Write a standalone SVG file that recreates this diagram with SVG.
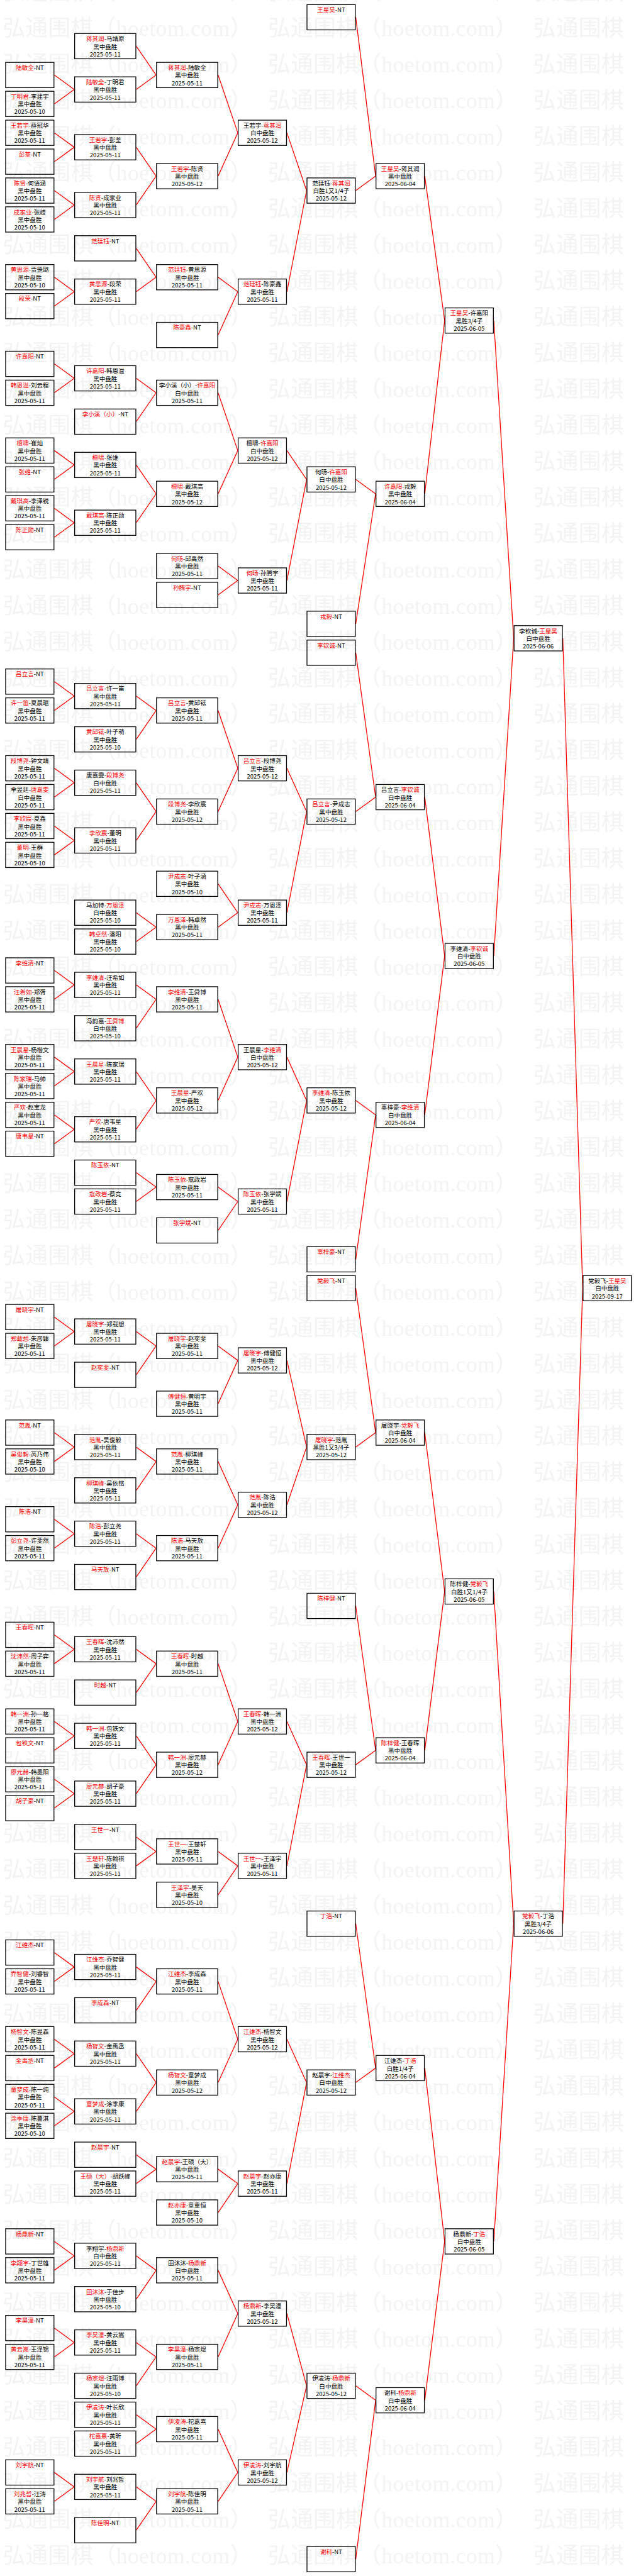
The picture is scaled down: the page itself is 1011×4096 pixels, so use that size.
<svg xmlns="http://www.w3.org/2000/svg" width="1011" height="4096" viewBox="0 0 1011 4096">
<style>
.nd text{font-family:"Noto Sans CJK SC","Noto Sans",sans-serif;font-size:15px;text-anchor:middle;fill:#000}
.nd .r{fill:#f00}
.box{fill:none;stroke:#000;stroke-width:2}
.cn path{fill:none;stroke:#f00;stroke-width:2;stroke-linejoin:round}
.wm{font-family:"Liberation Serif","Noto Sans CJK SC",serif;font-size:56px;fill:#f3f3f3}
</style>
<defs>
<rect id="bn" class="box" x="-60.25" y="1" width="120.5" height="63"/>
<rect id="bw" class="box" x="-76.25" y="1" width="152.5" height="63"/>
<pattern id="wm" patternUnits="userSpaceOnUse" x="0" y="23" width="661" height="90"><text class="wm" x="7" y="67" textLength="622" lengthAdjust="spacing">弘通围棋（hoetom.com）</text></pattern>
</defs>
<g transform="scale(0.6379)">
<rect x="0" y="0" width="1585" height="6421" fill="#fff"/>
<rect x="0" y="0" width="1585" height="6421" fill="url(#wm)"/>
<g class="cn">
<path d="M135.5,187 L185,223 L135.5,259"/>
<path d="M135.5,331 L185,367 L135.5,403"/>
<path d="M135.5,475 L185,511 L135.5,547"/>
<path d="M135.5,691 L185,727 L135.5,763"/>
<path d="M135.5,907 L185,943 L135.5,979"/>
<path d="M135.5,1123 L185,1159 L135.5,1195"/>
<path d="M135.5,1267 L185,1303 L135.5,1339"/>
<path d="M135.5,1699 L185,1735 L135.5,1771"/>
<path d="M135.5,1915 L185,1951 L135.5,1987"/>
<path d="M135.5,2059 L185,2095 L135.5,2131"/>
<path d="M135.5,2419 L185,2455 L135.5,2491"/>
<path d="M135.5,2635 L185,2671 L135.5,2707"/>
<path d="M135.5,2779 L185,2815 L135.5,2851"/>
<path d="M135.5,3283 L185,3319 L135.5,3355"/>
<path d="M135.5,3571 L185,3607 L135.5,3643"/>
<path d="M135.5,3787 L185,3823 L135.5,3859"/>
<path d="M135.5,4075 L185,4111 L135.5,4147"/>
<path d="M135.5,4291 L185,4327 L135.5,4363"/>
<path d="M135.5,4435 L185,4471 L135.5,4507"/>
<path d="M135.5,4867 L185,4903 L135.5,4939"/>
<path d="M135.5,5083 L185,5119 L135.5,5155"/>
<path d="M135.5,5227 L185,5263 L135.5,5299"/>
<path d="M135.5,5587 L185,5623 L135.5,5659"/>
<path d="M135.5,5803 L185,5839 L135.5,5875"/>
<path d="M135.5,6163 L185,6199 L135.5,6235"/>
<path d="M339.5,115 L389,187 L339.5,223"/>
<path d="M339.5,367 L389,439 L339.5,511"/>
<path d="M339.5,619 L389,691 L339.5,727"/>
<path d="M339.5,943 L389,979 L339.5,1051"/>
<path d="M339.5,1159 L389,1231 L339.5,1303"/>
<path d="M339.5,1735 L389,1771 L339.5,1843"/>
<path d="M339.5,1951 L389,2023 L339.5,2095"/>
<path d="M339.5,2275 L389,2311 L339.5,2347"/>
<path d="M339.5,2455 L389,2491 L339.5,2563"/>
<path d="M339.5,2671 L389,2743 L339.5,2815"/>
<path d="M339.5,2923 L389,2959 L339.5,2995"/>
<path d="M339.5,3319 L389,3355 L339.5,3427"/>
<path d="M339.5,3607 L389,3643 L339.5,3715"/>
<path d="M339.5,3823 L389,3859 L339.5,3931"/>
<path d="M339.5,4111 L389,4147 L339.5,4219"/>
<path d="M339.5,4327 L389,4399 L339.5,4471"/>
<path d="M339.5,4579 L389,4615 L339.5,4651"/>
<path d="M339.5,4903 L389,4939 L339.5,5011"/>
<path d="M339.5,5119 L389,5191 L339.5,5263"/>
<path d="M339.5,5371 L389,5407 L339.5,5443"/>
<path d="M339.5,5623 L389,5659 L339.5,5731"/>
<path d="M339.5,5839 L389,5875 L339.5,5947"/>
<path d="M339.5,6019 L389,6055 L339.5,6091"/>
<path d="M339.5,6199 L389,6235 L339.5,6307"/>
<path d="M543.5,187 L592.5,331 L543.5,439"/>
<path d="M543.5,691 L592.5,727 L543.5,835"/>
<path d="M543.5,979 L592.5,1123 L543.5,1231"/>
<path d="M543.5,1411 L592.5,1447 L543.5,1483"/>
<path d="M543.5,1771 L592.5,1915 L543.5,2023"/>
<path d="M543.5,2203 L592.5,2275 L543.5,2311"/>
<path d="M543.5,2491 L592.5,2635 L543.5,2743"/>
<path d="M543.5,2959 L592.5,2995 L543.5,3067"/>
<path d="M543.5,3355 L592.5,3391 L543.5,3499"/>
<path d="M543.5,3643 L592.5,3751 L543.5,3859"/>
<path d="M543.5,4147 L592.5,4291 L543.5,4399"/>
<path d="M543.5,4615 L592.5,4651 L543.5,4723"/>
<path d="M543.5,4939 L592.5,5083 L543.5,5191"/>
<path d="M543.5,5407 L592.5,5443 L543.5,5515"/>
<path d="M543.5,5659 L592.5,5767 L543.5,5875"/>
<path d="M543.5,6055 L592.5,6163 L543.5,6235"/>
<path d="M715,331 L764,475 L715,727"/>
<path d="M715,1123 L764,1195 L715,1447"/>
<path d="M715,1915 L764,2023 L715,2275"/>
<path d="M715,2635 L764,2743 L715,2995"/>
<path d="M715,3391 L764,3607 L715,3751"/>
<path d="M715,4291 L764,4399 L715,4651"/>
<path d="M715,5083 L764,5191 L715,5443"/>
<path d="M715,5767 L764,5947 L715,6163"/>
<path d="M886.5,43 L936,439 L886.5,475"/>
<path d="M886.5,1195 L936,1231 L886.5,1555"/>
<path d="M886.5,1627 L936,1987 L886.5,2023"/>
<path d="M886.5,2743 L936,2779 L886.5,3139"/>
<path d="M886.5,3211 L936,3571 L886.5,3607"/>
<path d="M886.5,4003 L936,4363 L886.5,4399"/>
<path d="M886.5,4795 L936,5155 L886.5,5191"/>
<path d="M886.5,5947 L936,5983 L886.5,6379"/>
<path d="M1058.5,439 L1108,799 L1058.5,1231"/>
<path d="M1058.5,1987 L1108,2383 L1058.5,2779"/>
<path d="M1058.5,3571 L1108,3967 L1058.5,4363"/>
<path d="M1058.5,5155 L1108,5587 L1058.5,5983"/>
<path d="M1230.5,799 L1280,1591 L1230.5,2383"/>
<path d="M1230.5,3967 L1280,4795 L1230.5,5587"/>
<path d="M1402.5,1591 L1452,3211 L1402.5,4795"/>
</g>
<g class="nd">
<!-- column 1 -->
<g id="c1_2" transform="translate(74.25,154.5)"><use href="#bn"/><text y="19.5"><tspan class="r">陆敏全</tspan>-NT</text></g>
<g id="c1_4" transform="translate(74.25,226.5)"><use href="#bn"/><text y="19.5"><tspan class="r">丁明君</tspan>-李建宇</text><text y="39">黑中盘胜</text><text y="58">2025-05-10</text></g>
<g id="c1_6" transform="translate(74.25,298.5)"><use href="#bn"/><text y="19.5"><tspan class="r">王若宇</tspan>-薛冠华</text><text y="39">黑中盘胜</text><text y="58">2025-05-11</text></g>
<g id="c1_8" transform="translate(74.25,370.5)"><use href="#bn"/><text y="19.5"><tspan class="r">彭荃</tspan>-NT</text></g>
<g id="c1_10" transform="translate(74.25,442.5)"><use href="#bn"/><text y="19.5"><tspan class="r">陈贤</tspan>-何语涵</text><text y="39">黑中盘胜</text><text y="58">2025-05-11</text></g>
<g id="c1_12" transform="translate(74.25,514.5)"><use href="#bn"/><text y="19.5"><tspan class="r">成家业</tspan>-张岐</text><text y="39">黑中盘胜</text><text y="58">2025-05-10</text></g>
<g id="c1_16" transform="translate(74.25,658.5)"><use href="#bn"/><text y="19.5"><tspan class="r">黄思源</tspan>-贾罡璐</text><text y="39">黑中盘胜</text><text y="58">2025-05-10</text></g>
<g id="c1_18" transform="translate(74.25,730.5)"><use href="#bn"/><text y="19.5"><tspan class="r">段荣</tspan>-NT</text></g>
<g id="c1_22" transform="translate(74.25,874.5)"><use href="#bn"/><text y="19.5"><tspan class="r">许嘉阳</tspan>-NT</text></g>
<g id="c1_24" transform="translate(74.25,946.5)"><use href="#bn"/><text y="19.5"><tspan class="r">韩恩溢</tspan>-刘云程</text><text y="39">黑中盘胜</text><text y="58">2025-05-11</text></g>
<g id="c1_28" transform="translate(74.25,1090.5)"><use href="#bn"/><text y="19.5"><tspan class="r">檀啸</tspan>-崔灿</text><text y="39">黑中盘胜</text><text y="58">2025-05-11</text></g>
<g id="c1_30" transform="translate(74.25,1162.5)"><use href="#bn"/><text y="19.5"><tspan class="r">张维</tspan>-NT</text></g>
<g id="c1_32" transform="translate(74.25,1234.5)"><use href="#bn"/><text y="19.5"><tspan class="r">戴琪高</tspan>-李泽锐</text><text y="39">黑中盘胜</text><text y="58">2025-05-11</text></g>
<g id="c1_34" transform="translate(74.25,1306.5)"><use href="#bn"/><text y="19.5"><tspan class="r">陈正勋</tspan>-NT</text></g>
<g id="c1_44" transform="translate(74.25,1666.5)"><use href="#bn"/><text y="19.5"><tspan class="r">吕立言</tspan>-NT</text></g>
<g id="c1_46" transform="translate(74.25,1738.5)"><use href="#bn"/><text y="19.5"><tspan class="r">许一笛</tspan>-夏晨琨</text><text y="39">黑中盘胜</text><text y="58">2025-05-11</text></g>
<g id="c1_50" transform="translate(74.25,1882.5)"><use href="#bn"/><text y="19.5"><tspan class="r">段博尧</tspan>-钟文靖</text><text y="39">黑中盘胜</text><text y="58">2025-05-11</text></g>
<g id="c1_52" transform="translate(74.25,1954.5)"><use href="#bn"/><text y="19.5">芈昱廷-<tspan class="r">唐嘉雯</tspan></text><text y="39">白中盘胜</text><text y="58">2025-05-11</text></g>
<g id="c1_54" transform="translate(74.25,2026.5)"><use href="#bn"/><text y="19.5"><tspan class="r">李欣宸</tspan>-夏鑫</text><text y="39">黑中盘胜</text><text y="58">2025-05-11</text></g>
<g id="c1_56" transform="translate(74.25,2098.5)"><use href="#bn"/><text y="19.5"><tspan class="r">董明</tspan>-王群</text><text y="39">黑中盘胜</text><text y="58">2025-05-10</text></g>
<g id="c1_64" transform="translate(74.25,2386.5)"><use href="#bn"/><text y="19.5"><tspan class="r">李维清</tspan>-NT</text></g>
<g id="c1_66" transform="translate(74.25,2458.5)"><use href="#bn"/><text y="19.5"><tspan class="r">汪希如</tspan>-郑胥</text><text y="39">黑中盘胜</text><text y="58">2025-05-11</text></g>
<g id="c1_70" transform="translate(74.25,2602.5)"><use href="#bn"/><text y="19.5"><tspan class="r">王晨星</tspan>-杨楷文</text><text y="39">黑中盘胜</text><text y="58">2025-05-11</text></g>
<g id="c1_72" transform="translate(74.25,2674.5)"><use href="#bn"/><text y="19.5"><tspan class="r">陈家瑞</tspan>-马帅</text><text y="39">黑中盘胜</text><text y="58">2025-05-11</text></g>
<g id="c1_74" transform="translate(74.25,2746.5)"><use href="#bn"/><text y="19.5"><tspan class="r">严欢</tspan>-赵宝龙</text><text y="39">黑中盘胜</text><text y="58">2025-05-11</text></g>
<g id="c1_76" transform="translate(74.25,2818.5)"><use href="#bn"/><text y="19.5"><tspan class="r">唐韦星</tspan>-NT</text></g>
<g id="c1_88" transform="translate(74.25,3250.5)"><use href="#bn"/><text y="19.5"><tspan class="r">屠晓宇</tspan>-NT</text></g>
<g id="c1_90" transform="translate(74.25,3322.5)"><use href="#bn"/><text y="19.5"><tspan class="r">郑载想</tspan>-朱彦臻</text><text y="39">黑中盘胜</text><text y="58">2025-05-11</text></g>
<g id="c1_96" transform="translate(74.25,3538.5)"><use href="#bn"/><text y="19.5"><tspan class="r">范胤</tspan>-NT</text></g>
<g id="c1_98" transform="translate(74.25,3610.5)"><use href="#bn"/><text y="19.5"><tspan class="r">吴俊毅</tspan>-芮乃伟</text><text y="39">黑中盘胜</text><text y="58">2025-05-10</text></g>
<g id="c1_102" transform="translate(74.25,3754.5)"><use href="#bn"/><text y="19.5"><tspan class="r">陈浩</tspan>-NT</text></g>
<g id="c1_104" transform="translate(74.25,3826.5)"><use href="#bn"/><text y="19.5"><tspan class="r">彭立尧</tspan>-许斐然</text><text y="39">黑中盘胜</text><text y="58">2025-05-11</text></g>
<g id="c1_110" transform="translate(74.25,4042.5)"><use href="#bn"/><text y="19.5"><tspan class="r">王春晖</tspan>-NT</text></g>
<g id="c1_112" transform="translate(74.25,4114.5)"><use href="#bn"/><text y="19.5"><tspan class="r">沈沛然</tspan>-周子弈</text><text y="39">黑中盘胜</text><text y="58">2025-05-11</text></g>
<g id="c1_116" transform="translate(74.25,4258.5)"><use href="#bn"/><text y="19.5"><tspan class="r">韩一洲</tspan>-孙一格</text><text y="39">黑中盘胜</text><text y="58">2025-05-11</text></g>
<g id="c1_118" transform="translate(74.25,4330.5)"><use href="#bn"/><text y="19.5"><tspan class="r">包铁文</tspan>-NT</text></g>
<g id="c1_120" transform="translate(74.25,4402.5)"><use href="#bn"/><text y="19.5"><tspan class="r">廖元赫</tspan>-韩墨阳</text><text y="39">黑中盘胜</text><text y="58">2025-05-11</text></g>
<g id="c1_122" transform="translate(74.25,4474.5)"><use href="#bn"/><text y="19.5"><tspan class="r">胡子豪</tspan>-NT</text></g>
<g id="c1_132" transform="translate(74.25,4834.5)"><use href="#bn"/><text y="19.5"><tspan class="r">江维杰</tspan>-NT</text></g>
<g id="c1_134" transform="translate(74.25,4906.5)"><use href="#bn"/><text y="19.5"><tspan class="r">乔智健</tspan>-刘睿智</text><text y="39">黑中盘胜</text><text y="58">2025-05-11</text></g>
<g id="c1_138" transform="translate(74.25,5050.5)"><use href="#bn"/><text y="19.5"><tspan class="r">杨智文</tspan>-陈昱森</text><text y="39">黑中盘胜</text><text y="58">2025-05-11</text></g>
<g id="c1_140" transform="translate(74.25,5122.5)"><use href="#bn"/><text y="19.5"><tspan class="r">金禹丞</tspan>-NT</text></g>
<g id="c1_142" transform="translate(74.25,5194.5)"><use href="#bn"/><text y="19.5"><tspan class="r">童梦成</tspan>-陈一纯</text><text y="39">黑中盘胜</text><text y="58">2025-05-11</text></g>
<g id="c1_144" transform="translate(74.25,5266.5)"><use href="#bn"/><text y="19.5"><tspan class="r">涂季康</tspan>-陈蔓淇</text><text y="39">黑中盘胜</text><text y="58">2025-05-10</text></g>
<g id="c1_152" transform="translate(74.25,5554.5)"><use href="#bn"/><text y="19.5"><tspan class="r">杨鼎新</tspan>-NT</text></g>
<g id="c1_154" transform="translate(74.25,5626.5)"><use href="#bn"/><text y="19.5"><tspan class="r">李翔宇</tspan>-丁世雄</text><text y="39">黑中盘胜</text><text y="58">2025-05-11</text></g>
<g id="c1_158" transform="translate(74.25,5770.5)"><use href="#bn"/><text y="19.5"><tspan class="r">李昊潼</tspan>-NT</text></g>
<g id="c1_160" transform="translate(74.25,5842.5)"><use href="#bn"/><text y="19.5"><tspan class="r">黄云嵩</tspan>-王泽锦</text><text y="39">黑中盘胜</text><text y="58">2025-05-11</text></g>
<g id="c1_168" transform="translate(74.25,6130.5)"><use href="#bn"/><text y="19.5"><tspan class="r">刘宇航</tspan>-NT</text></g>
<g id="c1_170" transform="translate(74.25,6202.5)"><use href="#bn"/><text y="19.5"><tspan class="r">刘兆哲</tspan>-汪涛</text><text y="39">黑中盘胜</text><text y="58">2025-05-11</text></g>
<!-- column 2 -->
<g id="c2_0" transform="translate(262.25,82.5)"><use href="#bw"/><text y="19.5"><tspan class="r">蒋其润</tspan>-马靖原</text><text y="39">黑中盘胜</text><text y="58">2025-05-11</text></g>
<g id="c2_3" transform="translate(262.25,190.5)"><use href="#bw"/><text y="19.5"><tspan class="r">陆敏全</tspan>-丁明君</text><text y="39">黑中盘胜</text><text y="58">2025-05-11</text></g>
<g id="c2_7" transform="translate(262.25,334.5)"><use href="#bw"/><text y="19.5"><tspan class="r">王若宇</tspan>-彭荃</text><text y="39">黑中盘胜</text><text y="58">2025-05-11</text></g>
<g id="c2_11" transform="translate(262.25,478.5)"><use href="#bw"/><text y="19.5"><tspan class="r">陈贤</tspan>-成家业</text><text y="39">黑中盘胜</text><text y="58">2025-05-11</text></g>
<g id="c2_14" transform="translate(262.25,586.5)"><use href="#bw"/><text y="19.5"><tspan class="r">范廷钰</tspan>-NT</text></g>
<g id="c2_17" transform="translate(262.25,694.5)"><use href="#bw"/><text y="19.5"><tspan class="r">黄思源</tspan>-段荣</text><text y="39">黑中盘胜</text><text y="58">2025-05-11</text></g>
<g id="c2_23" transform="translate(262.25,910.5)"><use href="#bw"/><text y="19.5"><tspan class="r">许嘉阳</tspan>-韩恩溢</text><text y="39">黑中盘胜</text><text y="58">2025-05-11</text></g>
<g id="c2_26" transform="translate(262.25,1018.5)"><use href="#bw"/><text y="19.5"><tspan class="r">李小溪（小）</tspan>-NT</text></g>
<g id="c2_29" transform="translate(262.25,1126.5)"><use href="#bw"/><text y="19.5"><tspan class="r">檀啸</tspan>-张维</text><text y="39">黑中盘胜</text><text y="58">2025-05-11</text></g>
<g id="c2_33" transform="translate(262.25,1270.5)"><use href="#bw"/><text y="19.5"><tspan class="r">戴琪高</tspan>-陈正勋</text><text y="39">黑中盘胜</text><text y="58">2025-05-11</text></g>
<g id="c2_45" transform="translate(262.25,1702.5)"><use href="#bw"/><text y="19.5"><tspan class="r">吕立言</tspan>-许一笛</text><text y="39">黑中盘胜</text><text y="58">2025-05-11</text></g>
<g id="c2_48" transform="translate(262.25,1810.5)"><use href="#bw"/><text y="19.5"><tspan class="r">黄邱铉</tspan>-叶子萌</text><text y="39">黑中盘胜</text><text y="58">2025-05-10</text></g>
<g id="c2_51" transform="translate(262.25,1918.5)"><use href="#bw"/><text y="19.5">唐嘉雯-<tspan class="r">段博尧</tspan></text><text y="39">白中盘胜</text><text y="58">2025-05-11</text></g>
<g id="c2_55" transform="translate(262.25,2062.5)"><use href="#bw"/><text y="19.5"><tspan class="r">李欣宸</tspan>-董明</text><text y="39">黑中盘胜</text><text y="58">2025-05-11</text></g>
<g id="c2_60" transform="translate(262.25,2242.5)"><use href="#bw"/><text y="19.5">马加特-<tspan class="r">万恩泽</tspan></text><text y="39">白中盘胜</text><text y="58">2025-05-10</text></g>
<g id="c2_62" transform="translate(262.25,2314.5)"><use href="#bw"/><text y="19.5"><tspan class="r">韩卓然</tspan>-潘阳</text><text y="39">黑中盘胜</text><text y="58">2025-05-10</text></g>
<g id="c2_65" transform="translate(262.25,2422.5)"><use href="#bw"/><text y="19.5"><tspan class="r">李维清</tspan>-汪希如</text><text y="39">黑中盘胜</text><text y="58">2025-05-11</text></g>
<g id="c2_68" transform="translate(262.25,2530.5)"><use href="#bw"/><text y="19.5">冯韵嘉-<tspan class="r">王舜博</tspan></text><text y="39">白中盘胜</text><text y="58">2025-05-10</text></g>
<g id="c2_71" transform="translate(262.25,2638.5)"><use href="#bw"/><text y="19.5"><tspan class="r">王晨星</tspan>-陈家瑞</text><text y="39">黑中盘胜</text><text y="58">2025-05-11</text></g>
<g id="c2_75" transform="translate(262.25,2782.5)"><use href="#bw"/><text y="19.5"><tspan class="r">严欢</tspan>-唐韦星</text><text y="39">黑中盘胜</text><text y="58">2025-05-11</text></g>
<g id="c2_78" transform="translate(262.25,2890.5)"><use href="#bw"/><text y="19.5"><tspan class="r">陈玉依</tspan>-NT</text></g>
<g id="c2_80" transform="translate(262.25,2962.5)"><use href="#bw"/><text y="19.5"><tspan class="r">寇政岩</tspan>-蔡竞</text><text y="39">黑中盘胜</text><text y="58">2025-05-11</text></g>
<g id="c2_89" transform="translate(262.25,3286.5)"><use href="#bw"/><text y="19.5"><tspan class="r">屠晓宇</tspan>-郑载想</text><text y="39">黑中盘胜</text><text y="58">2025-05-11</text></g>
<g id="c2_92" transform="translate(262.25,3394.5)"><use href="#bw"/><text y="19.5"><tspan class="r">赵奕斐</tspan>-NT</text></g>
<g id="c2_97" transform="translate(262.25,3574.5)"><use href="#bw"/><text y="19.5"><tspan class="r">范胤</tspan>-吴俊毅</text><text y="39">黑中盘胜</text><text y="58">2025-05-11</text></g>
<g id="c2_100" transform="translate(262.25,3682.5)"><use href="#bw"/><text y="19.5"><tspan class="r">柳琪峰</tspan>-吴依铭</text><text y="39">黑中盘胜</text><text y="58">2025-05-11</text></g>
<g id="c2_103" transform="translate(262.25,3790.5)"><use href="#bw"/><text y="19.5"><tspan class="r">陈浩</tspan>-彭立尧</text><text y="39">黑中盘胜</text><text y="58">2025-05-11</text></g>
<g id="c2_106" transform="translate(262.25,3898.5)"><use href="#bw"/><text y="19.5"><tspan class="r">马天放</tspan>-NT</text></g>
<g id="c2_111" transform="translate(262.25,4078.5)"><use href="#bw"/><text y="19.5"><tspan class="r">王春晖</tspan>-沈沛然</text><text y="39">黑中盘胜</text><text y="58">2025-05-11</text></g>
<g id="c2_114" transform="translate(262.25,4186.5)"><use href="#bw"/><text y="19.5"><tspan class="r">时越</tspan>-NT</text></g>
<g id="c2_117" transform="translate(262.25,4294.5)"><use href="#bw"/><text y="19.5"><tspan class="r">韩一洲</tspan>-包铁文</text><text y="39">黑中盘胜</text><text y="58">2025-05-11</text></g>
<g id="c2_121" transform="translate(262.25,4438.5)"><use href="#bw"/><text y="19.5"><tspan class="r">廖元赫</tspan>-胡子豪</text><text y="39">黑中盘胜</text><text y="58">2025-05-11</text></g>
<g id="c2_124" transform="translate(262.25,4546.5)"><use href="#bw"/><text y="19.5"><tspan class="r">王世一</tspan>-NT</text></g>
<g id="c2_126" transform="translate(262.25,4618.5)"><use href="#bw"/><text y="19.5"><tspan class="r">王楚轩</tspan>-陈翰祺</text><text y="39">黑中盘胜</text><text y="58">2025-05-11</text></g>
<g id="c2_133" transform="translate(262.25,4870.5)"><use href="#bw"/><text y="19.5"><tspan class="r">江维杰</tspan>-乔智健</text><text y="39">黑中盘胜</text><text y="58">2025-05-11</text></g>
<g id="c2_136" transform="translate(262.25,4978.5)"><use href="#bw"/><text y="19.5"><tspan class="r">李成森</tspan>-NT</text></g>
<g id="c2_139" transform="translate(262.25,5086.5)"><use href="#bw"/><text y="19.5"><tspan class="r">杨智文</tspan>-金禹丞</text><text y="39">黑中盘胜</text><text y="58">2025-05-11</text></g>
<g id="c2_143" transform="translate(262.25,5230.5)"><use href="#bw"/><text y="19.5"><tspan class="r">童梦成</tspan>-涂季康</text><text y="39">黑中盘胜</text><text y="58">2025-05-11</text></g>
<g id="c2_146" transform="translate(262.25,5338.5)"><use href="#bw"/><text y="19.5"><tspan class="r">赵晨宇</tspan>-NT</text></g>
<g id="c2_148" transform="translate(262.25,5410.5)"><use href="#bw"/><text y="19.5"><tspan class="r">王硕（大）</tspan>-胡跃峰</text><text y="39">黑中盘胜</text><text y="58">2025-05-11</text></g>
<g id="c2_153" transform="translate(262.25,5590.5)"><use href="#bw"/><text y="19.5">李翔宇-<tspan class="r">杨鼎新</tspan></text><text y="39">白中盘胜</text><text y="58">2025-05-11</text></g>
<g id="c2_156" transform="translate(262.25,5698.5)"><use href="#bw"/><text y="19.5"><tspan class="r">田沐沐</tspan>-于佳步</text><text y="39">黑中盘胜</text><text y="58">2025-05-10</text></g>
<g id="c2_159" transform="translate(262.25,5806.5)"><use href="#bw"/><text y="19.5"><tspan class="r">李昊潼</tspan>-黄云嵩</text><text y="39">黑中盘胜</text><text y="58">2025-05-11</text></g>
<g id="c2_162" transform="translate(262.25,5914.5)"><use href="#bw"/><text y="19.5"><tspan class="r">杨宗煜</tspan>-汪雨博</text><text y="39">黑中盘胜</text><text y="58">2025-05-10</text></g>
<g id="c2_164" transform="translate(262.25,5986.5)"><use href="#bw"/><text y="19.5"><tspan class="r">伊凌涛</tspan>-叶长欣</text><text y="39">黑中盘胜</text><text y="58">2025-05-11</text></g>
<g id="c2_166" transform="translate(262.25,6058.5)"><use href="#bw"/><text y="19.5"><tspan class="r">柁嘉熹</tspan>-黄昕</text><text y="39">黑中盘胜</text><text y="58">2025-05-11</text></g>
<g id="c2_169" transform="translate(262.25,6166.5)"><use href="#bw"/><text y="19.5"><tspan class="r">刘宇航</tspan>-刘兆哲</text><text y="39">黑中盘胜</text><text y="58">2025-05-11</text></g>
<g id="c2_172" transform="translate(262.25,6274.5)"><use href="#bw"/><text y="19.5"><tspan class="r">陈佳明</tspan>-NT</text></g>
<!-- column 3 -->
<g id="c3_2" transform="translate(466.25,154.5)"><use href="#bw"/><text y="19.5"><tspan class="r">蒋其润</tspan>-陆敏全</text><text y="39">黑中盘胜</text><text y="58">2025-05-11</text></g>
<g id="c3_9" transform="translate(466.25,406.5)"><use href="#bw"/><text y="19.5"><tspan class="r">王若宇</tspan>-陈贤</text><text y="39">黑中盘胜</text><text y="58">2025-05-12</text></g>
<g id="c3_16" transform="translate(466.25,658.5)"><use href="#bw"/><text y="19.5"><tspan class="r">范廷钰</tspan>-黄思源</text><text y="39">黑中盘胜</text><text y="58">2025-05-11</text></g>
<g id="c3_20" transform="translate(466.25,802.5)"><use href="#bw"/><text y="19.5"><tspan class="r">陈豪鑫</tspan>-NT</text></g>
<g id="c3_24" transform="translate(466.25,946.5)"><use href="#bw"/><text y="19.5">李小溪（小）-<tspan class="r">许嘉阳</tspan></text><text y="39">白中盘胜</text><text y="58">2025-05-11</text></g>
<g id="c3_31" transform="translate(466.25,1198.5)"><use href="#bw"/><text y="19.5"><tspan class="r">檀啸</tspan>-戴琪高</text><text y="39">黑中盘胜</text><text y="58">2025-05-12</text></g>
<g id="c3_36" transform="translate(466.25,1378.5)"><use href="#bw"/><text y="19.5"><tspan class="r">何旸</tspan>-邱禹然</text><text y="39">黑中盘胜</text><text y="58">2025-05-11</text></g>
<g id="c3_38" transform="translate(466.25,1450.5)"><use href="#bw"/><text y="19.5"><tspan class="r">孙腾宇</tspan>-NT</text></g>
<g id="c3_46" transform="translate(466.25,1738.5)"><use href="#bw"/><text y="19.5"><tspan class="r">吕立言</tspan>-黄邱铉</text><text y="39">黑中盘胜</text><text y="58">2025-05-11</text></g>
<g id="c3_53" transform="translate(466.25,1990.5)"><use href="#bw"/><text y="19.5"><tspan class="r">段博尧</tspan>-李欣宸</text><text y="39">黑中盘胜</text><text y="58">2025-05-12</text></g>
<g id="c3_58" transform="translate(466.25,2170.5)"><use href="#bw"/><text y="19.5"><tspan class="r">尹成志</tspan>-叶子涵</text><text y="39">黑中盘胜</text><text y="58">2025-05-10</text></g>
<g id="c3_61" transform="translate(466.25,2278.5)"><use href="#bw"/><text y="19.5"><tspan class="r">万恩泽</tspan>-韩卓然</text><text y="39">黑中盘胜</text><text y="58">2025-05-11</text></g>
<g id="c3_66" transform="translate(466.25,2458.5)"><use href="#bw"/><text y="19.5"><tspan class="r">李维清</tspan>-王舜博</text><text y="39">黑中盘胜</text><text y="58">2025-05-11</text></g>
<g id="c3_73" transform="translate(466.25,2710.5)"><use href="#bw"/><text y="19.5"><tspan class="r">王晨星</tspan>-严欢</text><text y="39">黑中盘胜</text><text y="58">2025-05-12</text></g>
<g id="c3_79" transform="translate(466.25,2926.5)"><use href="#bw"/><text y="19.5"><tspan class="r">陈玉依</tspan>-寇政岩</text><text y="39">黑中盘胜</text><text y="58">2025-05-11</text></g>
<g id="c3_82" transform="translate(466.25,3034.5)"><use href="#bw"/><text y="19.5"><tspan class="r">张学斌</tspan>-NT</text></g>
<g id="c3_90" transform="translate(466.25,3322.5)"><use href="#bw"/><text y="19.5"><tspan class="r">屠晓宇</tspan>-赵奕斐</text><text y="39">黑中盘胜</text><text y="58">2025-05-11</text></g>
<g id="c3_94" transform="translate(466.25,3466.5)"><use href="#bw"/><text y="19.5"><tspan class="r">傅健恒</tspan>-黄明宇</text><text y="39">黑中盘胜</text><text y="58">2025-05-11</text></g>
<g id="c3_98" transform="translate(466.25,3610.5)"><use href="#bw"/><text y="19.5"><tspan class="r">范胤</tspan>-柳琪峰</text><text y="39">黑中盘胜</text><text y="58">2025-05-11</text></g>
<g id="c3_104" transform="translate(466.25,3826.5)"><use href="#bw"/><text y="19.5"><tspan class="r">陈浩</tspan>-马天放</text><text y="39">黑中盘胜</text><text y="58">2025-05-11</text></g>
<g id="c3_112" transform="translate(466.25,4114.5)"><use href="#bw"/><text y="19.5"><tspan class="r">王春晖</tspan>-时越</text><text y="39">黑中盘胜</text><text y="58">2025-05-11</text></g>
<g id="c3_119" transform="translate(466.25,4366.5)"><use href="#bw"/><text y="19.5"><tspan class="r">韩一洲</tspan>-廖元赫</text><text y="39">黑中盘胜</text><text y="58">2025-05-12</text></g>
<g id="c3_125" transform="translate(466.25,4582.5)"><use href="#bw"/><text y="19.5"><tspan class="r">王世一</tspan>-王楚轩</text><text y="39">黑中盘胜</text><text y="58">2025-05-11</text></g>
<g id="c3_128" transform="translate(466.25,4690.5)"><use href="#bw"/><text y="19.5"><tspan class="r">王泽宇</tspan>-吴天</text><text y="39">黑中盘胜</text><text y="58">2025-05-10</text></g>
<g id="c3_134" transform="translate(466.25,4906.5)"><use href="#bw"/><text y="19.5"><tspan class="r">江维杰</tspan>-李成森</text><text y="39">黑中盘胜</text><text y="58">2025-05-11</text></g>
<g id="c3_141" transform="translate(466.25,5158.5)"><use href="#bw"/><text y="19.5"><tspan class="r">杨智文</tspan>-童梦成</text><text y="39">黑中盘胜</text><text y="58">2025-05-12</text></g>
<g id="c3_147" transform="translate(466.25,5374.5)"><use href="#bw"/><text y="19.5"><tspan class="r">赵晨宇</tspan>-王硕（大）</text><text y="39">黑中盘胜</text><text y="58">2025-05-11</text></g>
<g id="c3_150" transform="translate(466.25,5482.5)"><use href="#bw"/><text y="19.5"><tspan class="r">赵亦康</tspan>-章重恒</text><text y="39">黑中盘胜</text><text y="58">2025-05-10</text></g>
<g id="c3_154" transform="translate(466.25,5626.5)"><use href="#bw"/><text y="19.5">田沐沐-<tspan class="r">杨鼎新</tspan></text><text y="39">白中盘胜</text><text y="58">2025-05-11</text></g>
<g id="c3_160" transform="translate(466.25,5842.5)"><use href="#bw"/><text y="19.5"><tspan class="r">李昊潼</tspan>-杨宗煜</text><text y="39">黑中盘胜</text><text y="58">2025-05-11</text></g>
<g id="c3_165" transform="translate(466.25,6022.5)"><use href="#bw"/><text y="19.5"><tspan class="r">伊凌涛</tspan>-柁嘉熹</text><text y="39">黑中盘胜</text><text y="58">2025-05-11</text></g>
<g id="c3_170" transform="translate(466.25,6202.5)"><use href="#bw"/><text y="19.5"><tspan class="r">刘宇航</tspan>-陈佳明</text><text y="39">黑中盘胜</text><text y="58">2025-05-11</text></g>
<!-- column 4 -->
<g id="c4_6" transform="translate(653.75,298.5)"><use href="#bn"/><text y="19.5">王若宇-<tspan class="r">蒋其润</tspan></text><text y="39">白中盘胜</text><text y="58">2025-05-12</text></g>
<g id="c4_17" transform="translate(653.75,694.5)"><use href="#bn"/><text y="19.5"><tspan class="r">范廷钰</tspan>-陈豪鑫</text><text y="39">黑中盘胜</text><text y="58">2025-05-11</text></g>
<g id="c4_28" transform="translate(653.75,1090.5)"><use href="#bn"/><text y="19.5">檀啸-<tspan class="r">许嘉阳</tspan></text><text y="39">白中盘胜</text><text y="58">2025-05-12</text></g>
<g id="c4_37" transform="translate(653.75,1414.5)"><use href="#bn"/><text y="19.5"><tspan class="r">何旸</tspan>-孙腾宇</text><text y="39">黑中盘胜</text><text y="58">2025-05-11</text></g>
<g id="c4_50" transform="translate(653.75,1882.5)"><use href="#bn"/><text y="19.5"><tspan class="r">吕立言</tspan>-段博尧</text><text y="39">黑中盘胜</text><text y="58">2025-05-12</text></g>
<g id="c4_60" transform="translate(653.75,2242.5)"><use href="#bn"/><text y="19.5"><tspan class="r">尹成志</tspan>-万恩泽</text><text y="39">黑中盘胜</text><text y="58">2025-05-11</text></g>
<g id="c4_70" transform="translate(653.75,2602.5)"><use href="#bn"/><text y="19.5">王晨星-<tspan class="r">李维清</tspan></text><text y="39">白中盘胜</text><text y="58">2025-05-12</text></g>
<g id="c4_80" transform="translate(653.75,2962.5)"><use href="#bn"/><text y="19.5"><tspan class="r">陈玉依</tspan>-张学斌</text><text y="39">黑中盘胜</text><text y="58">2025-05-11</text></g>
<g id="c4_91" transform="translate(653.75,3358.5)"><use href="#bn"/><text y="19.5"><tspan class="r">屠晓宇</tspan>-傅健恒</text><text y="39">黑中盘胜</text><text y="58">2025-05-12</text></g>
<g id="c4_101" transform="translate(653.75,3718.5)"><use href="#bn"/><text y="19.5"><tspan class="r">范胤</tspan>-陈浩</text><text y="39">黑中盘胜</text><text y="58">2025-05-12</text></g>
<g id="c4_116" transform="translate(653.75,4258.5)"><use href="#bn"/><text y="19.5"><tspan class="r">王春晖</tspan>-韩一洲</text><text y="39">黑中盘胜</text><text y="58">2025-05-12</text></g>
<g id="c4_126" transform="translate(653.75,4618.5)"><use href="#bn"/><text y="19.5"><tspan class="r">王世一</tspan>-王泽宇</text><text y="39">黑中盘胜</text><text y="58">2025-05-11</text></g>
<g id="c4_138" transform="translate(653.75,5050.5)"><use href="#bn"/><text y="19.5"><tspan class="r">江维杰</tspan>-杨智文</text><text y="39">黑中盘胜</text><text y="58">2025-05-12</text></g>
<g id="c4_148" transform="translate(653.75,5410.5)"><use href="#bn"/><text y="19.5"><tspan class="r">赵晨宇</tspan>-赵亦康</text><text y="39">黑中盘胜</text><text y="58">2025-05-11</text></g>
<g id="c4_157" transform="translate(653.75,5734.5)"><use href="#bn"/><text y="19.5"><tspan class="r">杨鼎新</tspan>-李昊潼</text><text y="39">黑中盘胜</text><text y="58">2025-05-12</text></g>
<g id="c4_168" transform="translate(653.75,6130.5)"><use href="#bn"/><text y="19.5"><tspan class="r">伊凌涛</tspan>-刘宇航</text><text y="39">黑中盘胜</text><text y="58">2025-05-12</text></g>
<!-- column 5 -->
<g id="c5_m2" transform="translate(825.25,10.5)"><use href="#bn"/><text y="19.5"><tspan class="r">王星昊</tspan>-NT</text></g>
<g id="c5_10" transform="translate(825.25,442.5)"><use href="#bn"/><text y="19.5">范廷钰-<tspan class="r">蒋其润</tspan></text><text y="39">白胜1又1/4子</text><text y="58">2025-05-12</text></g>
<g id="c5_30" transform="translate(825.25,1162.5)"><use href="#bn"/><text y="19.5">何旸-<tspan class="r">许嘉阳</tspan></text><text y="39">白中盘胜</text><text y="58">2025-05-12</text></g>
<g id="c5_40" transform="translate(825.25,1522.5)"><use href="#bn"/><text y="19.5"><tspan class="r">戎毅</tspan>-NT</text></g>
<g id="c5_42" transform="translate(825.25,1594.5)"><use href="#bn"/><text y="19.5"><tspan class="r">李钦诚</tspan>-NT</text></g>
<g id="c5_53" transform="translate(825.25,1990.5)"><use href="#bn"/><text y="19.5"><tspan class="r">吕立言</tspan>-尹成志</text><text y="39">黑中盘胜</text><text y="58">2025-05-12</text></g>
<g id="c5_73" transform="translate(825.25,2710.5)"><use href="#bn"/><text y="19.5"><tspan class="r">李维清</tspan>-陈玉依</text><text y="39">黑中盘胜</text><text y="58">2025-05-12</text></g>
<g id="c5_84" transform="translate(825.25,3106.5)"><use href="#bn"/><text y="19.5"><tspan class="r">辜梓豪</tspan>-NT</text></g>
<g id="c5_86" transform="translate(825.25,3178.5)"><use href="#bn"/><text y="19.5"><tspan class="r">党毅飞</tspan>-NT</text></g>
<g id="c5_97" transform="translate(825.25,3574.5)"><use href="#bn"/><text y="19.5"><tspan class="r">屠晓宇</tspan>-范胤</text><text y="39">黑胜1又3/4子</text><text y="58">2025-05-12</text></g>
<g id="c5_108" transform="translate(825.25,3970.5)"><use href="#bn"/><text y="19.5"><tspan class="r">陈梓健</tspan>-NT</text></g>
<g id="c5_119" transform="translate(825.25,4366.5)"><use href="#bn"/><text y="19.5"><tspan class="r">王春晖</tspan>-王世一</text><text y="39">黑中盘胜</text><text y="58">2025-05-12</text></g>
<g id="c5_130" transform="translate(825.25,4762.5)"><use href="#bn"/><text y="19.5"><tspan class="r">丁浩</tspan>-NT</text></g>
<g id="c5_141" transform="translate(825.25,5158.5)"><use href="#bn"/><text y="19.5">赵晨宇-<tspan class="r">江维杰</tspan></text><text y="39">白中盘胜</text><text y="58">2025-05-12</text></g>
<g id="c5_162" transform="translate(825.25,5914.5)"><use href="#bn"/><text y="19.5">伊凌涛-<tspan class="r">杨鼎新</tspan></text><text y="39">白中盘胜</text><text y="58">2025-05-12</text></g>
<g id="c5_174" transform="translate(825.25,6346.5)"><use href="#bn"/><text y="19.5"><tspan class="r">谢科</tspan>-NT</text></g>
<!-- column 6 -->
<g id="c6_9" transform="translate(997.25,406.5)"><use href="#bn"/><text y="19.5"><tspan class="r">王星昊</tspan>-蒋其润</text><text y="39">黑中盘胜</text><text y="58">2025-06-04</text></g>
<g id="c6_31" transform="translate(997.25,1198.5)"><use href="#bn"/><text y="19.5"><tspan class="r">许嘉阳</tspan>-戎毅</text><text y="39">黑中盘胜</text><text y="58">2025-06-04</text></g>
<g id="c6_52" transform="translate(997.25,1954.5)"><use href="#bn"/><text y="19.5">吕立言-<tspan class="r">李钦诚</tspan></text><text y="39">白中盘胜</text><text y="58">2025-06-04</text></g>
<g id="c6_74" transform="translate(997.25,2746.5)"><use href="#bn"/><text y="19.5">辜梓豪-<tspan class="r">李维清</tspan></text><text y="39">白中盘胜</text><text y="58">2025-06-04</text></g>
<g id="c6_96" transform="translate(997.25,3538.5)"><use href="#bn"/><text y="19.5">屠晓宇-<tspan class="r">党毅飞</tspan></text><text y="39">白中盘胜</text><text y="58">2025-06-04</text></g>
<g id="c6_118" transform="translate(997.25,4330.5)"><use href="#bn"/><text y="19.5"><tspan class="r">陈梓健</tspan>-王春晖</text><text y="39">黑中盘胜</text><text y="58">2025-06-04</text></g>
<g id="c6_140" transform="translate(997.25,5122.5)"><use href="#bn"/><text y="19.5">江维杰-<tspan class="r">丁浩</tspan></text><text y="39">白胜1/4子</text><text y="58">2025-06-04</text></g>
<g id="c6_163" transform="translate(997.25,5950.5)"><use href="#bn"/><text y="19.5">谢科-<tspan class="r">杨鼎新</tspan></text><text y="39">白中盘胜</text><text y="58">2025-06-04</text></g>
<!-- column 7 -->
<g id="c7_19" transform="translate(1169.25,766.5)"><use href="#bn"/><text y="19.5"><tspan class="r">王星昊</tspan>-许嘉阳</text><text y="39">黑胜3/4子</text><text y="58">2025-06-05</text></g>
<g id="c7_63" transform="translate(1169.25,2350.5)"><use href="#bn"/><text y="19.5">李维清-<tspan class="r">李钦诚</tspan></text><text y="39">白中盘胜</text><text y="58">2025-06-05</text></g>
<g id="c7_107" transform="translate(1169.25,3934.5)"><use href="#bn"/><text y="19.5">陈梓健-<tspan class="r">党毅飞</tspan></text><text y="39">白胜1又1/4子</text><text y="58">2025-06-05</text></g>
<g id="c7_152" transform="translate(1169.25,5554.5)"><use href="#bn"/><text y="19.5">杨鼎新-<tspan class="r">丁浩</tspan></text><text y="39">白中盘胜</text><text y="58">2025-06-05</text></g>
<!-- column 8 -->
<g id="c8_41" transform="translate(1341.25,1558.5)"><use href="#bn"/><text y="19.5">李钦诚-<tspan class="r">王星昊</tspan></text><text y="39">白中盘胜</text><text y="58">2025-06-06</text></g>
<g id="c8_130" transform="translate(1341.25,4762.5)"><use href="#bn"/><text y="19.5"><tspan class="r">党毅飞</tspan>-丁浩</text><text y="39">黑胜3/4子</text><text y="58">2025-06-06</text></g>
<!-- final -->
<g id="c9_86" transform="translate(1513.25,3178.5)"><use href="#bn"/><text y="19.5">党毅飞-<tspan class="r">王星昊</tspan></text><text y="39">白中盘胜</text><text y="58">2025-09-17</text></g>
</g>
</g>
</svg>
